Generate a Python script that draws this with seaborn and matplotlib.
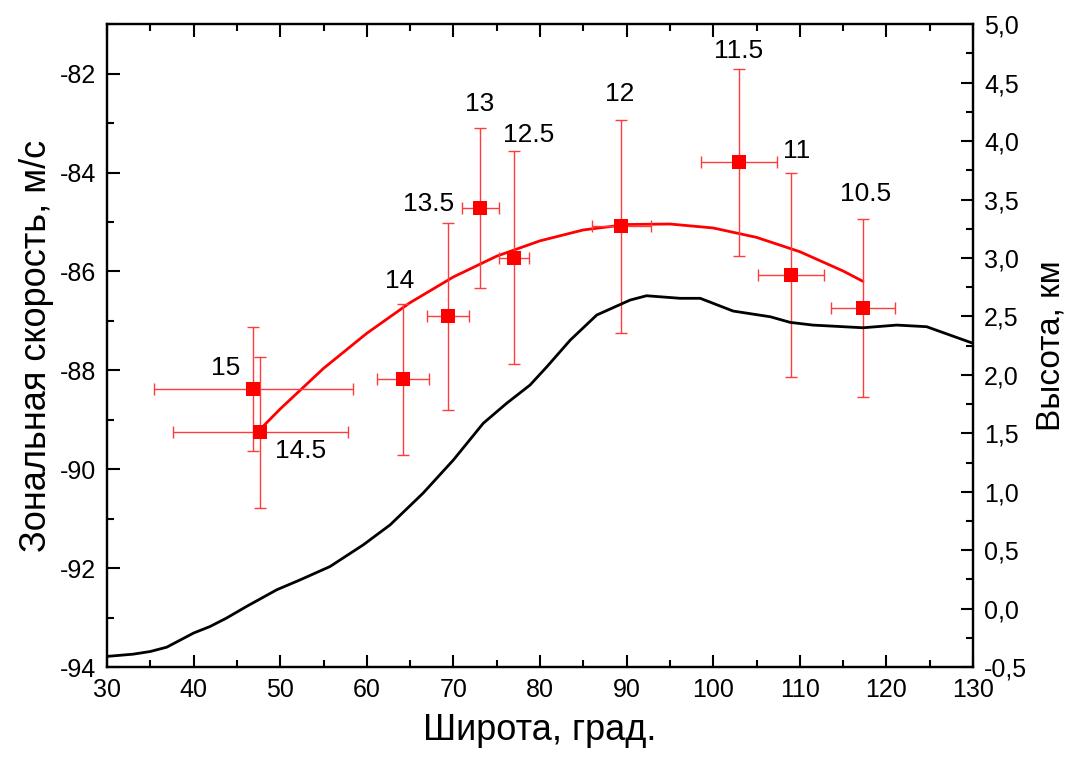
import matplotlib
matplotlib.use("Agg")
import matplotlib.pyplot as plt
import seaborn as sns
import numpy as np
import pandas as pd
from matplotlib.ticker import MultipleLocator, FuncFormatter

# ---- data: measured points ----
labels = ["15", "14.5", "14", "13.5", "13", "12.5", "12", "11.5", "11", "10.5"]
lat = [46.9, 47.7, 64.2, 69.4, 73.1, 77.0, 89.4, 103.0, 109.0, 117.3]
speed = [-88.38, -89.25, -88.18, -86.91, -84.72, -85.72, -85.09, -83.79, -86.07, -86.73]
speed_err = [1.26, 1.53, 1.53, 1.90, 1.62, 2.16, 2.16, 1.89, 2.07, 1.80]
lat_err = [11.5, 10.1, 3.0, 2.4, 2.15, 1.75, 3.4, 4.4, 3.8, 3.75]

# label positions
label_x = [43.7, 52.3, 63.75, 67.1, 73.0, 78.65, 89.2, 102.9, 109.6, 117.6]
label_y = [-87.95, -89.63, -86.19, -84.64, -82.62, -83.23, -82.42, -81.54, -83.56, -84.44]

# ---- data: fitted curve ----
fit_lat = [47.7, 50, 55, 60, 65, 70, 75, 80, 85, 90, 95, 100, 105, 110, 115, 117.3]
fit_speed = [-89.19, -88.78, -87.96, -87.25, -86.63, -86.11, -85.69, -85.38,
             -85.16, -85.05, -85.04, -85.12, -85.31, -85.60, -85.99, -86.20]

# ---- data: height profile (right axis, km) ----
h_lat = [30.0, 33.0, 35.0, 36.9, 40.0, 41.9, 43.8, 46.1, 49.6, 52.3, 55.75, 59.6,
         62.7, 66.5, 70.0, 73.45, 76.15, 78.85, 80.8, 83.5, 86.55, 90.4, 92.3,
         96.2, 98.5, 102.3, 106.6, 108.9, 111.5, 117.3, 121.2, 124.65, 130.0]
h_km = [-0.409, -0.390, -0.367, -0.330, -0.209, -0.153, -0.081, 0.018, 0.161, 0.246,
        0.360, 0.546, 0.717, 0.988, 1.272, 1.586, 1.757, 1.913, 2.070, 2.298, 2.512,
        2.640, 2.677, 2.655, 2.655, 2.546, 2.497, 2.449, 2.426, 2.403, 2.426, 2.412, 2.270]

sns.set_theme(style="ticks")
plt.rcParams['font.family'] = ['Liberation Sans', 'DejaVu Sans']
plt.rcParams['axes.unicode_minus'] = False
plt.rcParams['text.color'] = 'black'
plt.rcParams['axes.labelcolor'] = 'black'
plt.rcParams['xtick.color'] = 'black'
plt.rcParams['ytick.color'] = 'black'

fig = plt.figure(figsize=(10.67, 7.58), dpi=100)
ax = fig.add_axes([0.1003, 0.12, 0.8116, 0.848])
ax2 = ax.twinx()

red = "#ff0000"
err_red = "#ff3b3b"

# height profile on right axis
sns.lineplot(x=h_lat, y=h_km, ax=ax2, color="black", linewidth=2.0, sort=False)

# fit curve
sns.lineplot(x=fit_lat, y=fit_speed, ax=ax, color=red, linewidth=2.0, sort=False, zorder=3)

# error bars
ax.errorbar(lat, speed, yerr=speed_err, xerr=lat_err, fmt="none",
            ecolor=err_red, elinewidth=1.0, capsize=4.5, capthick=1.0, zorder=4)

# squares
sns.scatterplot(x=lat, y=speed, ax=ax, marker="s", s=100, color=red,
                edgecolor=red, linewidth=0, zorder=5)

for t, xx, yy in zip(labels, label_x, label_y):
    ax.text(xx, yy, t, ha="center", va="center", fontsize=19, color="black", zorder=6)

ax.set_xlim(30, 130)
ax.set_ylim(-94, -81)
ax2.set_ylim(-0.5, 5.0)

ax.xaxis.set_major_locator(MultipleLocator(10))
ax.xaxis.set_minor_locator(MultipleLocator(5))
ax.yaxis.set_major_locator(MultipleLocator(2))
ax.yaxis.set_minor_locator(MultipleLocator(1))
ax2.yaxis.set_major_locator(MultipleLocator(0.5))
ax2.yaxis.set_minor_locator(MultipleLocator(0.25))
ax2.yaxis.set_major_formatter(FuncFormatter(lambda v, p: f"{v:.1f}".replace(".", ",")))

ax.tick_params(axis="x", which="both", direction="in", top=True, bottom=True,
               labelsize=18, pad=8, width=1.5)
ax.tick_params(axis="y", which="both", direction="in", left=True, right=False,
               labelsize=18, pad=8, width=1.5)
ax2.tick_params(axis="y", which="both", direction="in", right=True, left=False,
                labelsize=18, pad=8, width=1.5)
for a in (ax, ax2):
    a.tick_params(which="major", length=9)
    a.tick_params(which="minor", length=5)
    for s in a.spines.values():
        s.set_linewidth(1.6)
        s.set_color("black")
        s.set_visible(True)

ax.set_xlabel("Широта, град.", fontsize=26, labelpad=8)
ax.set_ylabel("Зональная скорость, м/с", fontsize=26, labelpad=4)
ax2.set_ylabel("Высота, км", fontsize=24, labelpad=6)

fig.savefig("out.png", dpi=100, facecolor="white")
